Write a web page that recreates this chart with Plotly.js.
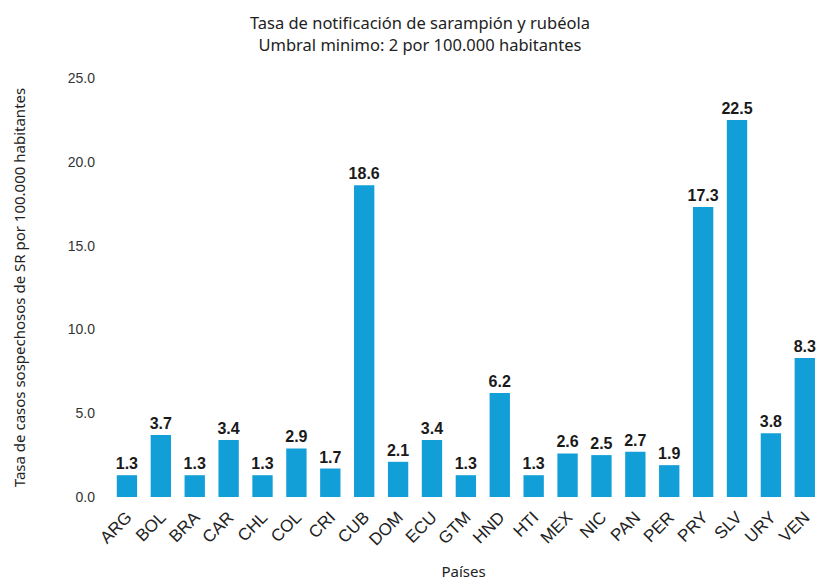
<!DOCTYPE html>
<html><head><meta charset="utf-8">
<script src="https://cdn.plot.ly/plotly-3.0.1.min.js"></script>
<style>html,body{margin:0;padding:0;background:#fff}</style>
</head><body>
<div id="chart" style="width:817px;height:581px"></div>
<script>
var paises = ["ARG","BOL","BRA","CAR","CHL","COL","CRI","CUB","DOM","ECU","GTM","HND","HTI","MEX","NIC","PAN","PER","PRY","SLV","URY","VEN"];
var tasas = [1.3,3.7,1.3,3.4,1.3,2.9,1.7,18.6,2.1,3.4,1.3,6.2,1.3,2.6,2.5,2.7,1.9,17.3,22.5,3.8,8.3];
var yTicks = [0,5,10,15,20,25];

var trace = {
  type: "bar",
  x: paises,
  y: tasas,
  marker: {color: "#129fd8"},
  text: tasas.map(function(v){return v.toFixed(1);}),
  textposition: "outside",
  constraintext: "none",
  cliponaxis: false,
  textfont: {family: "Liberation Sans", size: 16, color: "#1a1a1a"},
  texttemplate: "<b>%{text}</b>",
  hoverinfo: "none"
};
var layout = {
  width: 817, height: 581,
  margin: {l: 110, r: 0, t: 78, b: 84},
  paper_bgcolor: "#fff", plot_bgcolor: "#fff",
  bargap: 0.4,
  showlegend: false,
  title: {text: "Tasa de notificación de sarampión y rubéola<br>Umbral minimo: 2 por 100.000 habitantes",
          x: 0.514, xref: "container", xanchor: "center", y: 0.95, yref: "container", yanchor: "top",
          font: {family: "Noto Sans", size: 16.5, color: "#222"}},
  xaxis: {
    type: "category",
    range: [-0.5, 20.36],
    tickangle: -45,
    tickfont: {family: "Liberation Sans", size: 17, color: "#222"},
    showgrid: false, zeroline: false, showline: false, ticks: "",
    ticklabelstandoff: 6,
    title: {text: "Países", font: {family: "Noto Sans", size: 15, color: "#222"}, standoff: 19}
  },
  yaxis: {
    range: [0, 25],
    tickvals: yTicks,
    ticktext: yTicks.map(function(v){return v.toFixed(1);}),
    tickfont: {family: "Liberation Sans", size: 14, color: "#333"},
    showgrid: false, zeroline: false, showline: false, ticks: "",
    ticklabelstandoff: 14,
    title: {text: "Tasa de casos sospechosos de SR por 100.000 habitantes", font: {family: "Noto Sans", size: 15, color: "#222"}, standoff: 38}
  }
};
Plotly.newPlot("chart", [trace], layout, {displayModeBar: false, staticPlot: true});
</script>
</body></html>
